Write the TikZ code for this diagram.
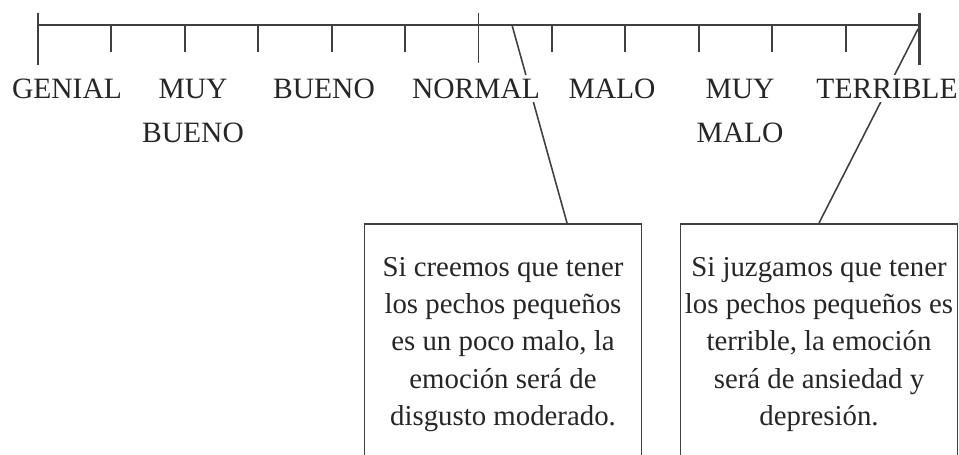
\documentclass[tikz,border=0pt]{standalone}
\usepackage{fontspec}
\setmainfont{Liberation Serif}
\usepackage{tikz}
\usetikzlibrary{calc}

\begin{document}
\begin{tikzpicture}[
  ink/.style={draw=black!75, line width=1.1pt},
  lbl/.style={anchor=north, fill=white, inner sep=2pt, text=black!85, align=center,
    font=\fontsize{16.8}{25}\selectfont},
  caja/.style={draw=black!75, line width=1.1pt, anchor=north, minimum width=5.54cm,
    inner xsep=0pt, inner ysep=0.66cm, align=center, text=black!85,
    font=\fontsize{16.4}{21.3}\selectfont}
]
\useasboundingbox (0,0) rectangle (19.18,-9.08);
%% scale
\coordinate (a0) at (0.76,-0.5);
\coordinate (a12) at (18.38,-0.5);
\draw[ink] (a0) -- (a12);
\foreach \i in {1,2,3,4,5,7,8,9,10,11}
  \draw[ink] ($(a0)!\i/12!(a12)$) -- ++(0,-0.54);
\draw[ink] ($(a0)!0.5!(a12)+(0,0.24)$) -- ++(0,-1.0);
\draw[ink, line width=1.7pt] ($(a0)+(0,0.24)$) -- ++(0,-1.04);
\draw[ink, line width=1.7pt] ($(a12)+(0,0.24)$) -- ++(0,-1.04);
%% boxes
\node[caja] (boxL) at (10.06,-4.46) {Si creemos que tener\\los pechos pequeños\\es un poco malo, la\\emoción será de\\disgusto moderado.};
\node[caja] (boxR) at (16.38,-4.46) {Si juzgamos que tener\\los pechos pequeños es\\terrible, la emoción\\será de ansiedad y\\depresión.};
%% connectors
\coordinate (pNormal) at (10.24,-0.5);
\coordinate (pTerrible) at (18.36,-0.58);
\draw[ink, line width=0.9pt] (pNormal) -- ([xshift=1.28cm]boxL.north);
\draw[ink, line width=0.9pt] (pTerrible) -- (boxR.north);
%% labels
\node[lbl] (genial) at (1.34,-1.5) {GENIAL};
\node[lbl] (muybueno) at (3.86,-1.5) {MUY\\BUENO};
\node[lbl] (bueno) at (6.48,-1.5) {BUENO};
\node[lbl] (normal) at (9.52,-1.5) {NORMAL};
\node[lbl] (malo) at (12.24,-1.5) {MALO};
\node[lbl] (muymalo) at (14.8,-1.5) {MUY\\MALO};
\node[lbl] (terrible) at (17.74,-1.5) {TERRIBLE};
\end{tikzpicture}
\end{document}
